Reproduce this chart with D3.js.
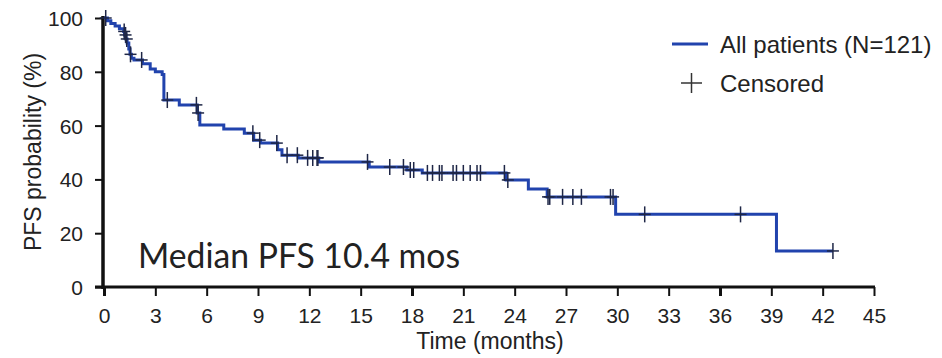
<!DOCTYPE html>
<html>
<head>
<meta charset="utf-8">
<script src="https://cdn.jsdelivr.net/npm/d3@7"></script>
<style>
  html, body { margin: 0; padding: 0; background: #fff; }
  svg { display: block; }
  text { font-family: "Liberation Sans", Arial, sans-serif; fill: #222; }
</style>
</head>
<body>
<svg id="chart" width="942" height="358"></svg>
<script>
// Kaplan–Meier PFS estimate: event times (months) and survival (%) right after each step
const stepTimes = [0.2, 0.4, 0.65, 0.9, 1.15, 1.2, 1.28, 1.35, 1.45, 1.52, 1.6, 1.75, 2.25, 2.7, 3.0, 3.4, 3.5,
  4.4, 5.45, 5.6, 7.0, 8.2, 8.75, 9.15, 10.15, 10.4, 11.35, 12.55, 15.5, 17.7, 18.6, 23.5, 24.8, 25.9, 29.9, 39.3];
const survival = [99, 98, 97, 96, 95, 93.7, 92.2, 90.7, 88.5, 86.5, 85, 84.4, 83, 81, 80, 79, 69.5,
  67.7, 64.7, 60.2, 58.7, 57.2, 54.6, 53.5, 51, 49, 48, 46.5, 44.6, 43.5, 42.4, 39.8, 36.4, 33.5, 27, 13.4];
const lastFollowUp = 42.6;

// Censoring times (months)
const censorTimes = [0.1, 1.18, 1.26, 1.33, 1.55, 2.2, 3.7, 5.4, 5.5, 8.7, 9.1, 10.1, 10.7, 11.3, 11.9, 12.2, 12.45, 12.5,
  15.4, 16.7, 17.5, 17.9, 18.1, 18.9, 19.2, 19.6, 19.75, 20.4, 20.6, 21.0, 21.4, 21.8, 22.0, 23.4, 23.6,
  25.95, 26.05, 26.8, 27.4, 27.9, 29.6, 29.75, 31.6, 37.2, 42.6];

const xTicks = [0, 3, 6, 9, 12, 15, 18, 21, 24, 27, 30, 33, 36, 39, 42, 45];
const yTicks = [0, 20, 40, 60, 80, 100];

const seriesLabel = "All patients (N=121)";
const censorLabel = "Censored";
const medianLabel = "Median PFS 10.4 mos";
const xTitle = "Time (months)";
const yTitle = "PFS probability (%)";

const curveColor = "#2143ad";
const censorColor = "#1e2646";

const svg = d3.select("#chart");
const x = d3.scaleLinear().domain([0, 45]).range([104, 874]);
const y = d3.scaleLinear().domain([0, 100]).range([287, 18]);

// survival value at time t from the step function
function survivalAt(t) {
  let s = 100;
  for (let i = 0; i < stepTimes.length; i++) {
    if (stepTimes[i] <= t) s = survival[i]; else break;
  }
  return s;
}

// Axes
const xAxis = svg.append("g")
  .attr("transform", `translate(0,${y(0)})`)
  .call(d3.axisBottom(x).tickValues(xTicks).tickSize(9).tickSizeOuter(0));
xAxis.select(".domain").remove();
xAxis.selectAll(".tick line").attr("stroke", "#111").attr("stroke-width", d => (d % 18 === 0 ? 3 : 2));
xAxis.selectAll(".tick text")
  .attr("y", 36).attr("dy", 0)
  .style("font-size", "21px").style("font-family", "Liberation Sans, Arial, sans-serif").attr("fill", "#222");
svg.append("line")
  .attr("x1", 95).attr("x2", x(45) + 1)
  .attr("y1", y(0)).attr("y2", y(0))
  .attr("stroke", "#111").attr("stroke-width", 3);

const yAxis = svg.append("g")
  .attr("transform", `translate(${x(0) - 1},0)`)
  .call(d3.axisLeft(y).tickValues(yTicks).tickSize(8).tickSizeOuter(0));
yAxis.select(".domain").remove();
yAxis.selectAll(".tick line").attr("stroke", "#111").attr("stroke-width", 2);
yAxis.selectAll(".tick text")
  .attr("x", -20).attr("dy", "0.36em")
  .style("font-size", "21px").style("font-family", "Liberation Sans, Arial, sans-serif").attr("fill", "#222");
svg.append("line")
  .attr("x1", x(0) - 1).attr("x2", x(0) - 1)
  .attr("y1", y(100) - 2).attr("y2", y(0) + 2)
  .attr("stroke", "#111").attr("stroke-width", 3.5);

// Axis titles
svg.append("text")
  .attr("x", 490).attr("y", 349)
  .attr("text-anchor", "middle")
  .style("font-size", "23px")
  .text(xTitle);
svg.append("text")
  .attr("transform", "translate(41,152) rotate(-90)")
  .attr("text-anchor", "middle")
  .style("font-size", "23px")
  .text(yTitle);

// KM step curve
const pts = [[0, 100]].concat(stepTimes.map((t, i) => [t, survival[i]]), [[lastFollowUp, survival[survival.length - 1]]]);
const line = d3.line().x(d => x(d[0])).y(d => y(d[1])).curve(d3.curveStepAfter);
svg.append("path")
  .datum(pts)
  .attr("d", line)
  .attr("fill", "none")
  .attr("stroke", curveColor)
  .attr("stroke-width", 3);

// Censor marks
const cg = svg.append("g").attr("stroke", censorColor).attr("stroke-width", 1.5);
censorTimes.forEach(t => {
  const cx = x(t), cy = y(survivalAt(t));
  cg.append("line").attr("x1", cx).attr("x2", cx).attr("y1", cy - 8).attr("y2", cy + 8);
  cg.append("line").attr("x1", cx - 6).attr("x2", cx + 6).attr("y1", cy).attr("y2", cy);
});

// Legend
const lg = svg.append("g");
lg.append("line").attr("x1", 672).attr("x2", 708).attr("y1", 44).attr("y2", 44)
  .attr("stroke", curveColor).attr("stroke-width", 3);
lg.append("text").attr("x", 720).attr("y", 53).style("font-size", "24px").text(seriesLabel);
lg.append("line").attr("x1", 681).attr("x2", 702).attr("y1", 83).attr("y2", 83)
  .attr("stroke", "#333").attr("stroke-width", 1.5);
lg.append("line").attr("x1", 691.5).attr("x2", 691.5).attr("y1", 73).attr("y2", 93)
  .attr("stroke", "#333").attr("stroke-width", 1.5);
lg.append("text").attr("x", 720).attr("y", 92).style("font-size", "24px").text(censorLabel);

// Median annotation
svg.append("text")
  .attr("x", 138).attr("y", 268)
  .attr("textLength", 322).attr("lengthAdjust", "spacingAndGlyphs")
  .style("font-family", "Lato, 'Open Sans', sans-serif")
  .style("font-size", "35px")
  .attr("fill", "#111")
  .text(medianLabel);
</script>
</body>
</html>
